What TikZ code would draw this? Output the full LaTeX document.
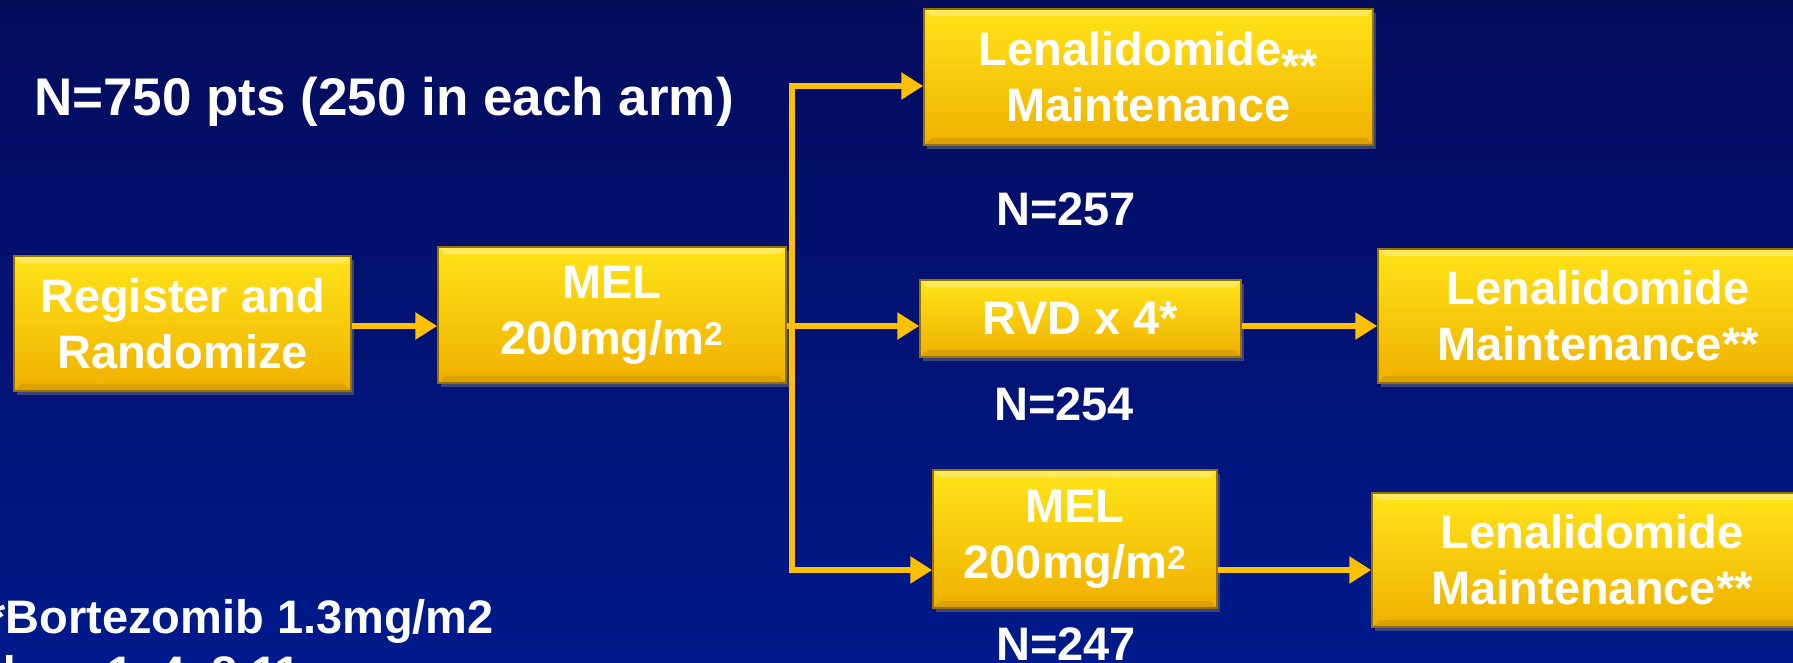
\documentclass[tikz,border=0pt]{standalone}
\usepackage{fontspec}
\setmainfont{Liberation Sans}
\usetikzlibrary{arrows.meta,shadows}
\definecolor{navytop}{RGB}{4,12,92}
\definecolor{navybot}{RGB}{0,26,140}
\definecolor{goldtop}{RGB}{255,228,24}
\definecolor{goldbot}{RGB}{240,176,0}
\definecolor{goldedge}{RGB}{150,112,0}
\definecolor{arrowgold}{RGB}{255,192,0}
\newcommand\boxfont{\fontsize{47}{56}\selectfont\bfseries}
\tikzset{
  gbox/.style={draw=goldedge, line width=1.5pt, top color=goldtop, bottom color=goldbot,
    text=white, align=center, inner sep=0pt, font=\boxfont,
    drop shadow={opacity=0.45, shadow xshift=3pt, shadow yshift=-4pt},
    path picture={
      \fill[white, opacity=0.3] (path picture bounding box.north west) -- (path picture bounding box.north east)
        -- ([xshift=-7pt,yshift=-7pt]path picture bounding box.north east)
        -- ([xshift=7pt,yshift=-7pt]path picture bounding box.north west) -- cycle;
      \fill[goldedge, opacity=0.25] (path picture bounding box.south west) -- (path picture bounding box.south east)
        -- ([xshift=-7pt,yshift=7pt]path picture bounding box.south east)
        -- ([xshift=7pt,yshift=7pt]path picture bounding box.south west) -- cycle;
    }},
  flow/.style={arrowgold, line width=5.5pt, -{Triangle[length=22pt,width=26pt]}},
  link/.style={arrowgold, line width=5.5pt},
  count/.style={text=white, font=\boxfont, inner sep=0pt}
}
\begin{document}
\begin{tikzpicture}[x=1pt,y=-1pt]
  \fill[top color=navytop, bottom color=navybot] (0,0) rectangle (1793,663);
  \useasboundingbox (0,0) rectangle (1793,663);
  \clip (0,0) rectangle (1793,663);
  \node[text=white, font=\fontsize{53}{60}\selectfont\bfseries, anchor=west, inner sep=0pt]
    (title) at (34,102) {N=750 pts (250 in each arm)};
  \node[gbox, minimum width=337pt, minimum height=135pt] (reg) at (182.5,323.5) {Register and\\Randomize};
  \node[gbox, minimum width=348pt, minimum height=136pt] (mel) at (612,315) {MEL\\200mg/m\textsuperscript{2}};
  \node[gbox, minimum width=449pt, minimum height=136pt] (lenA) at (1148.5,77)
    {Lenalidomide\raisebox{-0.35em}{**}\\Maintenance};
  \node[gbox, minimum width=321pt, minimum height=77pt] (rvd) at (1080.5,318.5) {RVD x 4*};
  \node[gbox, minimum width=440pt, minimum height=134pt] (lenB) at (1598,316) {Lenalidomide\\Maintenance**};
  \node[gbox, minimum width=284pt, minimum height=138pt] (mel2) at (1075,539) {MEL\\200mg/m\textsuperscript{2}};
  \node[gbox, minimum width=440pt, minimum height=134pt] (lenC) at (1592,560) {Lenalidomide\\Maintenance**};
  \node[count] (nA) at (1066,209) {N=257};
  \node[count] (nB) at (1064,404) {N=254};
  \node[count] (nC) at (1066,644) {N=247};
  \node[text=white, font=\boxfont, align=left, anchor=north west, inner sep=0pt]
    (note) at (-13,599) {*Bortezomib 1.3mg/m2\\days 1, 4, 8,11};
  \coordinate (rowA) at (0,86);
  \coordinate (rowB) at (0,326);
  \coordinate (rowC) at (0,570);
  \coordinate (trunk) at (792,0);
  \draw[flow] (reg.east |- rowB) -- (mel.west |- rowB);
  \draw[link] (mel.east |- rowB) -- (trunk |- rowB);
  \draw[flow] (trunk |- rowB) |- (lenA.west |- rowA);
  \draw[flow] (trunk |- rowB) -- (rvd.west |- rowB);
  \draw[flow] (trunk |- rowB) |- (mel2.west |- rowC);
  \draw[flow] (rvd.east |- rowB) -- (lenB.west |- rowB);
  \draw[flow] (mel2.east |- rowC) -- (lenC.west |- rowC);
\end{tikzpicture}
\end{document}
